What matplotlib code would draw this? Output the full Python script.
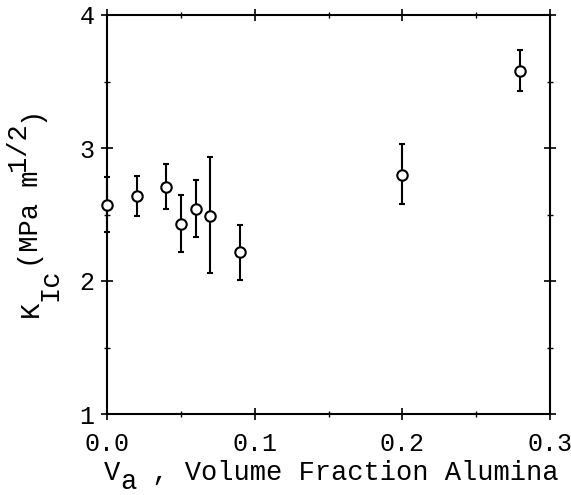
#!/usr/bin/env python3
"""
Fracture toughness K_Ic vs volume fraction of alumina
"""

import matplotlib
matplotlib.use('Agg')
import matplotlib.pyplot as plt
from matplotlib.ticker import MultipleLocator
from matplotlib.transforms import IdentityTransform

# Data
vol_frac = [0.0, 0.02, 0.04, 0.05, 0.06, 0.07, 0.09, 0.20, 0.28]
k_ic = [2.57, 2.64, 2.71, 2.43, 2.54, 2.49, 2.22, 2.80, 3.58]
k_low = [2.37, 2.49, 2.54, 2.22, 2.33, 2.06, 2.01, 2.58, 3.43]
k_high = [2.78, 2.79, 2.88, 2.65, 2.76, 2.93, 2.42, 3.03, 3.74]

x_ticks = [0.0, 0.1, 0.2, 0.3]
y_ticks = [1, 2, 3, 4]

# axis labels as (text, baseline shift in px; + = down) pieces
xlabel_parts = [('V', 0), ('a', 9), (' , Volume Fraction Alumina', 0)]
ylabel_parts = [('K', 0), ('Ic', 19), ('(MPa m', 0), ('1/2', -13), (')', 0)]

FONT = 'Liberation Mono'
DPI = 100
W, H = 571, 495

plt.rcParams['font.family'] = [FONT, 'DejaVu Sans']


def draw_label(fig, parts, x0, y0, size, vertical=False):
    """Draw a label piece by piece in a monospaced font (full size sub/superscripts)."""
    pitch = 0.6 * size * DPI / 72.0
    n = 0
    for text, shift in parts:
        if vertical:
            x, y, rot = x0 + shift, y0 + n * pitch, 90
        else:
            x, y, rot = x0 + n * pitch, y0 - shift, 0
        fig.text(x, y, text, transform=IdentityTransform(), fontsize=size,
                 rotation=rot, rotation_mode='anchor', ha='left', va='baseline')
        n += len(text)


fig = plt.figure(figsize=(W / DPI, H / DPI), dpi=DPI)
ax = fig.add_axes([107 / W, 1 - 414 / H, 443 / W, 399 / H])

yerr = [[v - lo for v, lo in zip(k_ic, k_low)],
        [hi - v for v, hi in zip(k_ic, k_high)]]
ax.errorbar(vol_frac, k_ic, yerr=yerr, fmt='o', color='black',
            mfc='white', mec='black', ms=7.5, mew=1.5,
            elinewidth=1.5, capsize=2.5, capthick=1.5, clip_on=False, zorder=3)

ax.set_xlim(0, 0.3)
ax.set_ylim(1, 4)
ax.set_xticks(x_ticks)
ax.set_xticklabels([f'{t:.1f}' for t in x_ticks])
ax.set_yticks(y_ticks)
ax.yaxis.set_minor_locator(MultipleLocator(0.5))
ax.xaxis.set_minor_locator(MultipleLocator(0.05))

for side in ax.spines.values():
    side.set_linewidth(1.5)

ax.tick_params(which='major', direction='inout', length=8, width=1.2,
               labelsize=18, top=True, right=True)
ax.tick_params(axis='x', which='major', pad=9)
ax.tick_params(axis='y', which='major', pad=5)
ax.tick_params(which='minor', direction='inout', length=4, width=1.0,
               top=True, right=True)

draw_label(fig, xlabel_parts, 104, H - 480, 19.5)
draw_label(fig, ylabel_parts, 38, H - 317, 19.5, vertical=True)

plt.savefig('out.png', dpi=DPI)
